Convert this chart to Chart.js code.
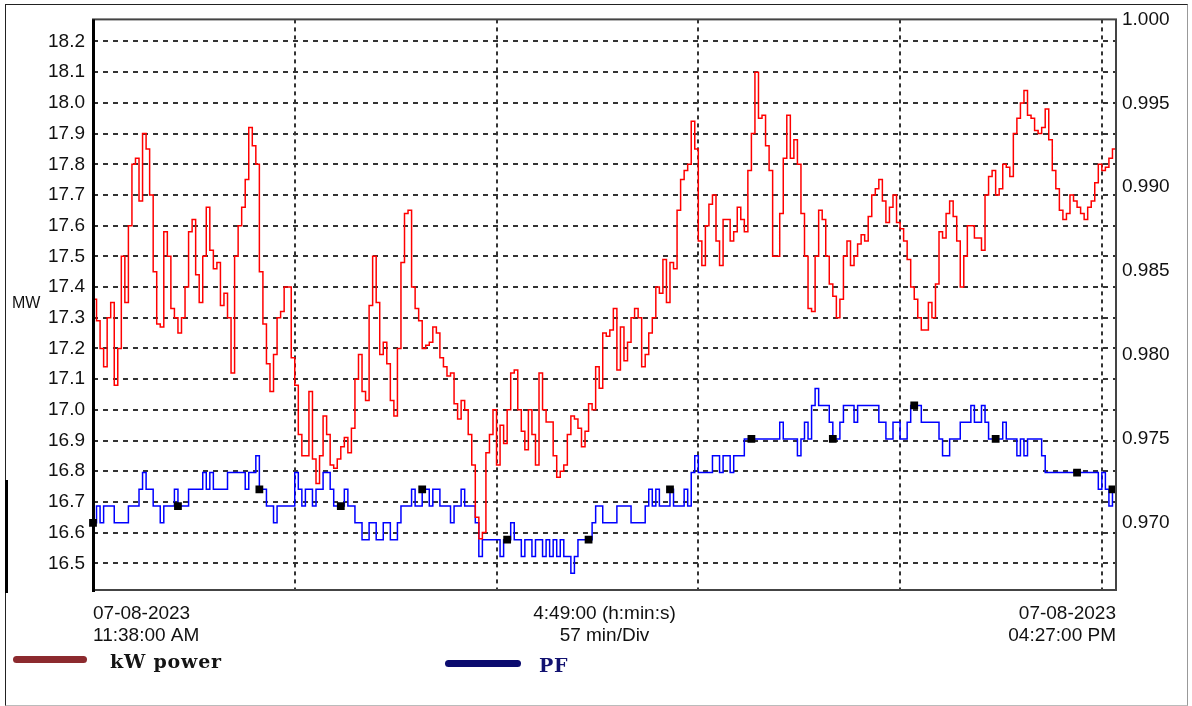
<!DOCTYPE html>
<html>
<head>
<meta charset="utf-8">
<title>kW power / PF</title>
<script src="https://cdn.jsdelivr.net/npm/chart.js@4.4.1/dist/chart.umd.min.js"></script>
<style>
  html, body { margin: 0; padding: 0; background: #fff; }
  #wrap { position: relative; width: 1192px; height: 706px; overflow: hidden; }
  #frame {
    position: absolute; left: 5px; top: 4px; width: 1183px; height: 702px; box-sizing: border-box;
    border-top: 1px solid #222; border-left: 1px solid #222;
    border-right: 1px solid #999; border-bottom: 1px solid #bbb;
  }
  #edge { position: absolute; left: 5px; top: 480px; width: 3px; height: 113px; background: #000; }
  #chart { position: absolute; left: 0; top: 0; }
  .unit { position: absolute; left: 12px; top: 294px; font: 16px "Liberation Sans", Arial, sans-serif; color: #111; }
  .swatch { position: absolute; height: 7px; border-radius: 4px; }
  .legtext { position: absolute; font: bold 19px "DejaVu Serif", Georgia, serif; letter-spacing: 0.8px; line-height: 19px; white-space: nowrap; }
</style>
</head>
<body>
<div id="wrap">
  <div id="frame"></div>
  <div id="edge"></div>
  <canvas id="chart" width="1192" height="706"></canvas>
  <div class="unit">MW</div>
  <div class="swatch" style="left:13px; top:656px; width:74px; background:#8c2a2e;"></div>
  <div class="legtext" style="left:110px; top:652px; color:#141414;">kW power</div>
  <div class="swatch" style="left:445px; top:660px; width:76px; background:#0b0b6f;"></div>
  <div class="legtext" style="left:539px; top:656px; color:#121270;">PF</div>
</div>
<script>
// one sample per minute, 11:38:00 AM .. 04:27:00 PM
const kwPower = [
  17.36, 17.29, 17.20, 17.14, 17.30, 17.35, 17.08, 17.20, 17.50, 17.35,
  17.60, 17.80, 17.82, 17.68, 17.90, 17.85, 17.70, 17.45, 17.28, 17.27,
  17.58, 17.50, 17.33, 17.30, 17.25, 17.30, 17.40, 17.58, 17.62, 17.44,
  17.35, 17.50, 17.66, 17.52, 17.46, 17.48, 17.34, 17.38, 17.30, 17.12,
  17.50, 17.60, 17.66, 17.75, 17.92, 17.86, 17.80, 17.45, 17.28, 17.15,
  17.06, 17.18, 17.30, 17.32, 17.40, 17.40, 17.17, 17.08, 16.92, 16.85,
  16.85, 17.06, 16.84, 16.76, 16.85, 16.98, 16.92, 16.82, 16.81, 16.84,
  16.88, 16.91, 16.86, 16.94, 17.10, 17.18, 17.06, 17.03, 17.34, 17.50,
  17.35, 17.18, 17.22, 17.15, 17.03, 16.98, 17.20, 17.48, 17.64, 17.65,
  17.40, 17.33, 17.29, 17.20, 17.21, 17.22, 17.27, 17.25, 17.17, 17.14,
  17.11, 17.12, 17.02, 16.97, 17.03, 17.00, 16.92, 16.82, 16.65, 16.58,
  16.60, 16.86, 16.92, 17.00, 16.82, 16.95, 16.89, 17.00, 17.12, 17.13,
  17.00, 16.93, 16.87, 17.00, 16.92, 16.82, 17.12, 17.00, 16.96, 16.96,
  16.85, 16.78, 16.80, 16.82, 16.92, 16.98, 16.97, 16.94, 16.88, 16.93,
  17.02, 17.00, 17.14, 17.07, 17.25, 17.24, 17.26, 17.33, 17.13, 17.27,
  17.16, 17.22, 17.30, 17.33, 17.30, 17.14, 17.18, 17.25, 17.30, 17.40,
  17.38, 17.49, 17.35, 17.48, 17.46, 17.65, 17.75, 17.78, 17.80, 17.94,
  17.85, 17.55, 17.47, 17.60, 17.67, 17.70, 17.55, 17.47, 17.62, 17.62,
  17.55, 17.58, 17.66, 17.62, 17.58, 17.78, 17.90, 18.10, 17.95, 17.96,
  17.86, 17.78, 17.50, 17.50, 17.64, 17.82, 17.96, 17.82, 17.88, 17.80,
  17.64, 17.50, 17.33, 17.32, 17.50, 17.65, 17.62, 17.50, 17.41, 17.37,
  17.30, 17.36, 17.50, 17.55, 17.47, 17.50, 17.54, 17.57, 17.55, 17.63,
  17.70, 17.72, 17.75, 17.68, 17.61, 17.66, 17.70, 17.61, 17.59, 17.55,
  17.49, 17.40, 17.36, 17.30, 17.26, 17.26, 17.35, 17.30, 17.41, 17.58,
  17.56, 17.64, 17.68, 17.63, 17.55, 17.40, 17.50, 17.60, 17.60, 17.56,
  17.56, 17.52, 17.70, 17.76, 17.78, 17.70, 17.72, 17.80, 17.79, 17.76,
  17.90, 17.95, 18.00, 18.04, 17.96, 17.95, 17.91, 17.90, 17.92, 17.98,
  17.88, 17.78, 17.72, 17.65, 17.62, 17.64, 17.70, 17.68, 17.66, 17.64,
  17.62, 17.66, 17.68, 17.74, 17.80, 17.78, 17.79, 17.82, 17.85, 17.86
];

const powerFactor = [
  0.970, 0.971, 0.970, 0.971, 0.971, 0.971, 0.970, 0.970, 0.970, 0.970,
  0.971, 0.971, 0.971, 0.972, 0.973, 0.972, 0.972, 0.971, 0.971, 0.970,
  0.971, 0.971, 0.971, 0.972, 0.971, 0.971, 0.971, 0.972, 0.972, 0.972,
  0.972, 0.973, 0.972, 0.973, 0.972, 0.972, 0.972, 0.972, 0.973, 0.973,
  0.973, 0.973, 0.973, 0.972, 0.973, 0.973, 0.974, 0.972, 0.972, 0.971,
  0.971, 0.970, 0.971, 0.971, 0.971, 0.971, 0.971, 0.973, 0.972, 0.971,
  0.972, 0.972, 0.971, 0.972, 0.972, 0.973, 0.973, 0.972, 0.971, 0.971,
  0.971, 0.972, 0.971, 0.971, 0.970, 0.970, 0.969, 0.969, 0.970, 0.970,
  0.969, 0.969, 0.970, 0.970, 0.969, 0.969, 0.970, 0.971, 0.971, 0.971,
  0.972, 0.971, 0.971, 0.972, 0.972, 0.971, 0.972, 0.972, 0.971, 0.971,
  0.971, 0.970, 0.971, 0.971, 0.972, 0.971, 0.971, 0.971, 0.970, 0.968,
  0.969, 0.969, 0.969, 0.969, 0.969, 0.968, 0.969, 0.969, 0.970, 0.969,
  0.969, 0.968, 0.969, 0.969, 0.968, 0.969, 0.969, 0.968, 0.969, 0.968,
  0.969, 0.968, 0.969, 0.968, 0.968, 0.967, 0.968, 0.969, 0.969, 0.969,
  0.969, 0.970, 0.971, 0.971, 0.970, 0.970, 0.970, 0.970, 0.971, 0.971,
  0.971, 0.971, 0.970, 0.970, 0.970, 0.970, 0.971, 0.972, 0.971, 0.972,
  0.971, 0.971, 0.971, 0.972, 0.971, 0.971, 0.971, 0.972, 0.971, 0.973,
  0.974, 0.973, 0.973, 0.973, 0.973, 0.974, 0.974, 0.973, 0.974, 0.974,
  0.973, 0.974, 0.974, 0.974, 0.975, 0.975, 0.975, 0.975, 0.975, 0.975,
  0.975, 0.975, 0.975, 0.975, 0.976, 0.975, 0.975, 0.975, 0.975, 0.974,
  0.975, 0.976, 0.975, 0.977, 0.978, 0.977, 0.977, 0.977, 0.976, 0.975,
  0.975, 0.976, 0.977, 0.977, 0.977, 0.976, 0.977, 0.977, 0.977, 0.977,
  0.977, 0.977, 0.976, 0.976, 0.975, 0.975, 0.976, 0.976, 0.975, 0.975,
  0.976, 0.977, 0.977, 0.977, 0.976, 0.976, 0.976, 0.976, 0.976, 0.975,
  0.974, 0.974, 0.975, 0.975, 0.975, 0.976, 0.976, 0.976, 0.977, 0.976,
  0.976, 0.977, 0.976, 0.975, 0.975, 0.975, 0.975, 0.976, 0.975, 0.975,
  0.975, 0.974, 0.975, 0.974, 0.975, 0.975, 0.975, 0.975, 0.974, 0.973,
  0.973, 0.973, 0.973, 0.973, 0.973, 0.973, 0.973, 0.973, 0.973, 0.973,
  0.973, 0.973, 0.973, 0.973, 0.972, 0.973, 0.972, 0.971, 0.972, 0.971
];

// samples that carry a square marker on the PF trace
const pfMarkers = [0, 24, 47, 70, 93, 117, 140, 163, 186, 209, 232, 255, 278, 288];

const mwTicks = [16.5, 16.6, 16.7, 16.8, 16.9, 17.0, 17.1, 17.2, 17.3, 17.4,
                 17.5, 17.6, 17.7, 17.8, 17.9, 18.0, 18.1, 18.2];
const pfTicks = [0.970, 0.975, 0.980, 0.985, 0.990, 0.995, 1.000];

const spanMinutes = 289;       // 4:49:00
const minPerDiv = 57;
const xTickAt = [0, spanMinutes / 2, spanMinutes];
const xTickLabels = [
  ['07-08-2023', '11:38:00 AM'],
  ['4:49:00 (h:min:s)', '57 min/Div'],
  ['07-08-2023', '04:27:00 PM']
];

const sansFont = '"Liberation Sans", Arial, sans-serif';

// dashed vertical division lines, one per 57 minutes
const divLines = {
  id: 'divLines',
  beforeDatasetsDraw(chart) {
    const { ctx, chartArea: a, scales: { x } } = chart;
    ctx.save();
    ctx.strokeStyle = '#333';
    ctx.lineWidth = 2;
    ctx.setLineDash([4, 4]);
    for (let m = minPerDiv; m < spanMinutes; m += minPerDiv) {
      const px = Math.round(x.getPixelForValue(m));
      ctx.beginPath();
      ctx.moveTo(px, a.top);
      ctx.lineTo(px, a.bottom);
      ctx.stroke();
    }
    ctx.restore();
  }
};

// plot frame with the heavy left axis line
const plotFrame = {
  id: 'plotFrame',
  afterDatasetsDraw(chart) {
    const { ctx, chartArea: a } = chart;
    ctx.save();
    ctx.strokeStyle = '#444';
    ctx.lineWidth = 2;
    ctx.strokeRect(a.left, a.top, a.right - a.left, a.bottom - a.top);
    ctx.fillStyle = '#000';
    ctx.fillRect(a.left - 1, a.top, 3, a.bottom - a.top + 2);
    ctx.restore();
  }
};

new Chart(document.getElementById('chart'), {
  type: 'line',
  data: {
    datasets: [
      {
        label: 'kW power',
        yAxisID: 'y',
        data: kwPower.map((v, i) => ({ x: i, y: v })),
        borderColor: '#ff0000',
        borderWidth: 1.5,
        pointRadius: 0,
        stepped: true
      },
      {
        label: 'PF',
        yAxisID: 'pf',
        data: powerFactor.map((v, i) => ({ x: i, y: v })),
        borderColor: '#0000ff',
        borderWidth: 1.5,
        stepped: true,
        clip: 6,
        pointStyle: 'rect',
        pointRadius: ctx => pfMarkers.includes(ctx.dataIndex) ? 5.5 : 0,
        pointBackgroundColor: '#000',
        pointBorderColor: '#000',
        pointBorderWidth: 0
      }
    ]
  },
  options: {
    responsive: false,
    animation: false,
    layout: { padding: { top: 15, left: 0, right: 0, bottom: 0 } },
    plugins: {
      legend: { display: false },
      tooltip: { enabled: false }
    },
    scales: {
      x: {
        type: 'linear',
        min: 0,
        max: spanMinutes,
        grid: { display: false },
        border: { display: false },
        afterBuildTicks: s => { s.ticks = xTickAt.map(v => ({ value: v })); },
        afterFit: s => { s.height = 116; },
        ticks: {
          align: 'inner',
          autoSkip: false,
          maxRotation: 0,
          padding: 5,
          color: '#111',
          font: { family: sansFont, size: 19, lineHeight: '22px' },
          callback: (v, i) => xTickLabels[i]
        }
      },
      y: {
        position: 'left',
        min: 16.413,
        max: 18.272,
        afterBuildTicks: s => { s.ticks = mwTicks.map(v => ({ value: v })); },
        afterFit: s => { s.width = 93; },
        grid: { color: '#333', lineWidth: 2, drawTicks: false },
        border: { display: false, dash: [5, 5] },
        ticks: {
          padding: 8,
          color: '#111',
          font: { family: sansFont, size: 19 },
          callback: v => v.toFixed(1)
        }
      },
      pf: {
        position: 'right',
        min: 0.966,
        max: 1.0,
        afterBuildTicks: s => { s.ticks = pfTicks.map(v => ({ value: v })); },
        afterFit: s => { s.width = 76; },
        grid: { display: false, drawTicks: false },
        border: { display: false },
        ticks: {
          padding: 6,
          color: '#111',
          font: { family: sansFont, size: 19 },
          callback: v => v.toFixed(3)
        }
      }
    }
  },
  plugins: [divLines, plotFrame]
});
</script>
</body>
</html>
